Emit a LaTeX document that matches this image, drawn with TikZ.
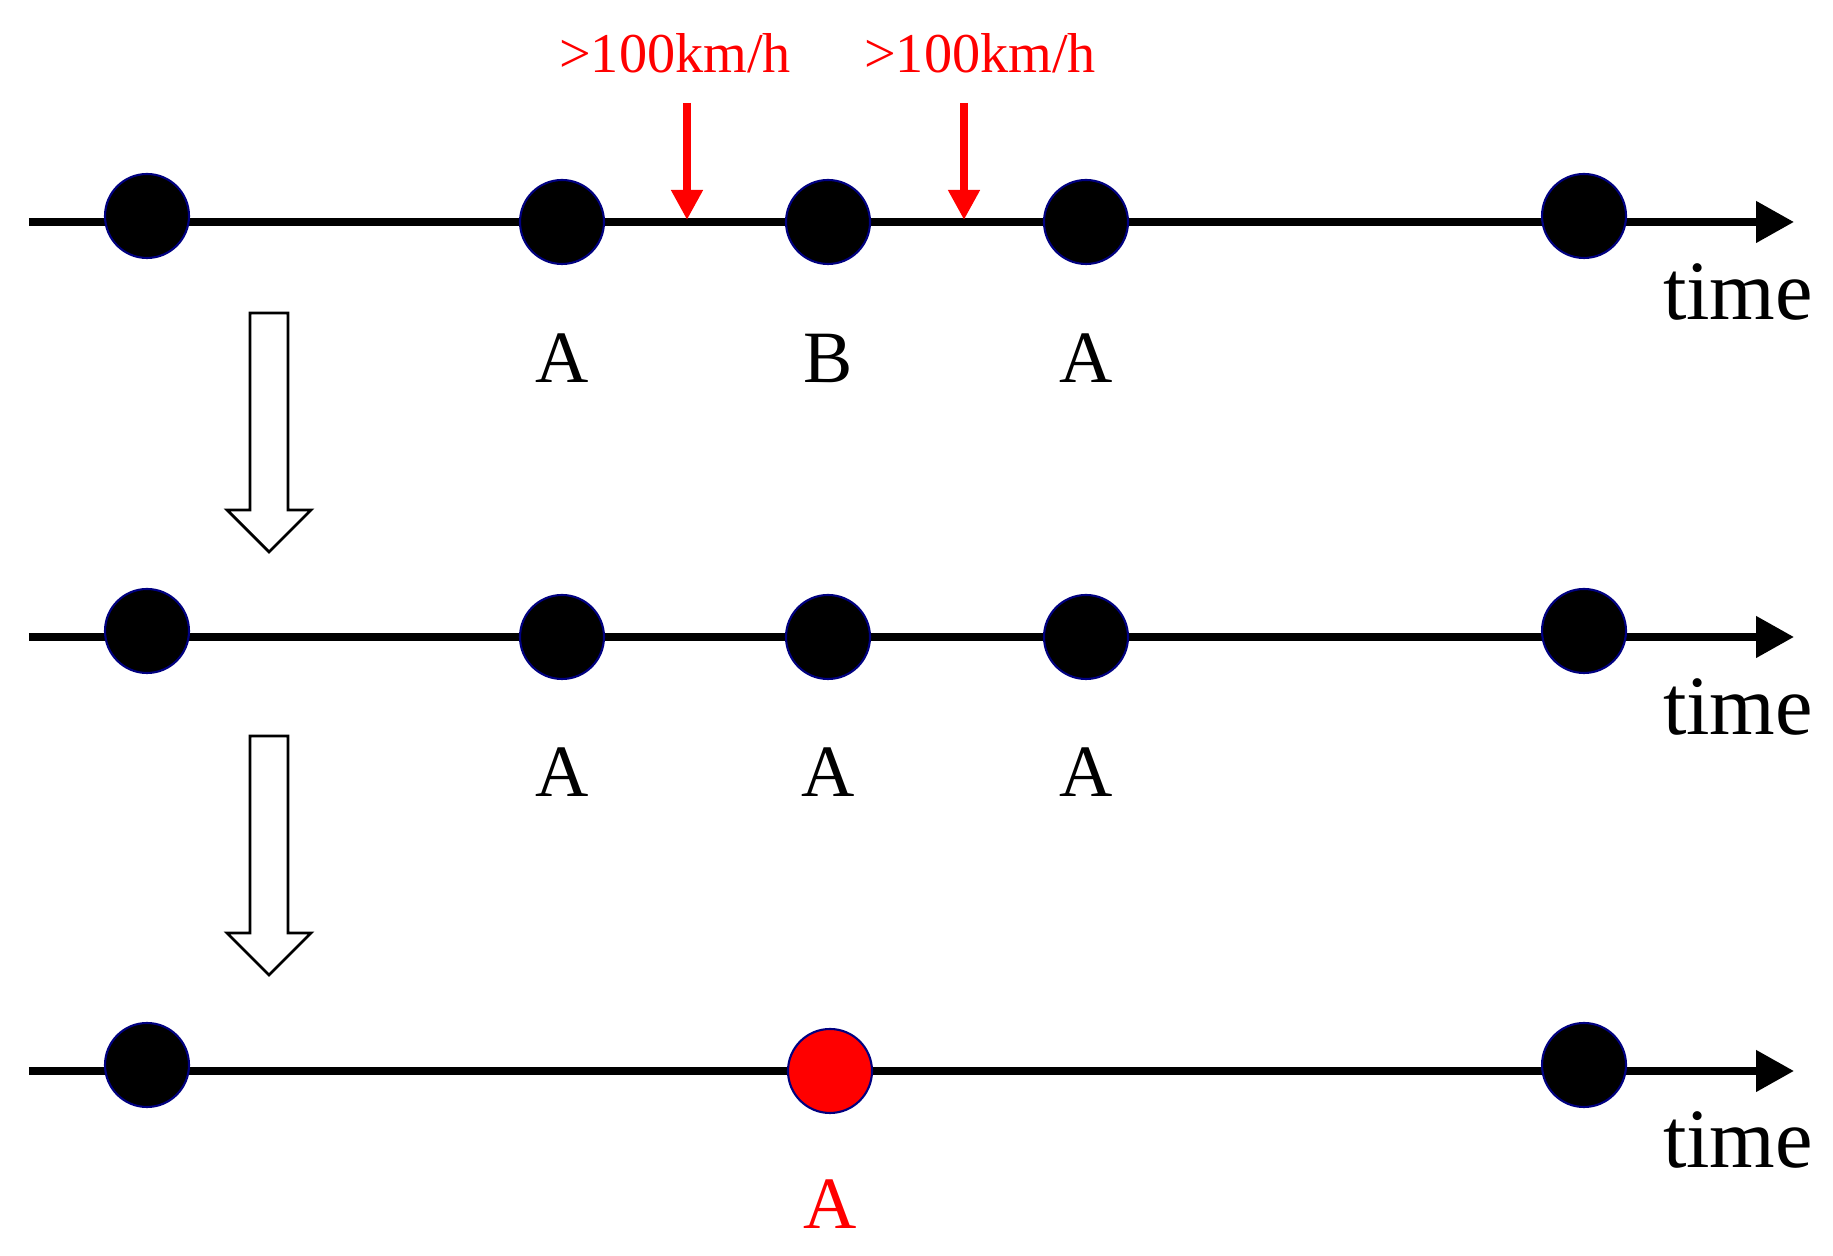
\documentclass[tikz,border=0pt]{standalone}
\usepackage{fontspec}
\setmainfont{Liberation Serif}
\usetikzlibrary{positioning,arrows.meta}

\newcommand\stagearrow[1]{%
  \draw[line width=0.8pt,fill=white] (#1) ++(-0.19,0) -- ++(0.38,0) -- ++(0,-1.97)
    -- ++(0.23,0) -- ++(-0.42,-0.42) -- ++(-0.42,0.42) -- ++(0.23,0) -- cycle;}

\begin{document}
\begin{tikzpicture}[on grid,
    dot/.style={circle,fill=black,draw=blue!50!black,line width=0.6pt,minimum size=0.84cm,inner sep=0pt},
    axis/.style={line width=2.2pt,-{Triangle[length=0.38cm,width=0.4cm]}},
    lab/.style={font=\fontsize{21}{21}\selectfont},
    tlab/.style={font=\fontsize{24}{24}\selectfont},
    warn/.style={red,line width=2.4pt,-{Triangle[length=0.3cm,width=0.3cm]}}]
  \useasboundingbox (0,0) rectangle (18.33,12.56);

  % first row
  \coordinate (s1) at (0.29,10.34);
  \coordinate (e1) at (17.94,10.34);
  \draw[axis] (s1) -- (e1);
  \node[dot] (a1) at (1.47,10.40) {};
  \node[dot] (b1) at (5.62,10.34) {};
  \node[dot] (c1) [right=2.66cm of b1] {};
  \node[dot] (d1) [right=2.58cm of c1] {};
  \node[dot] (f1) at (15.84,10.40) {};
  \node[lab] [below=1.36cm of b1] {A};
  \node[lab] [below=1.36cm of c1] {B};
  \node[lab] [below=1.36cm of d1] {A};
  \node[tlab] at (17.38,9.64) {time};
  \node[lab,red,font=\fontsize{16}{16}\selectfont] (v1) at (6.75,12.03) {>100km/h};
  \node[lab,red,font=\fontsize{16}{16}\selectfont] (v2) at (9.80,12.03) {>100km/h};
  \coordinate (p1) at (6.87,11.53);
  \coordinate (q1) at (6.87,10.36);
  \coordinate (p2) at (9.64,11.53);
  \coordinate (q2) at (9.64,10.36);
  \draw[warn] (p1) -- (q1);
  \draw[warn] (p2) -- (q2);

  \coordinate (m1) at (2.69,9.43);
  \stagearrow{m1}

  % second row
  \coordinate (s2) at (0.29,6.19);
  \coordinate (e2) at (17.94,6.19);
  \draw[axis] (s2) -- (e2);
  \node[dot] (a2) at (1.47,6.25) {};
  \node[dot] (b2) at (5.62,6.19) {};
  \node[dot] (c2) [right=2.66cm of b2] {};
  \node[dot] (d2) [right=2.58cm of c2] {};
  \node[dot] (f2) at (15.84,6.25) {};
  \node[lab] [below=1.35cm of b2] {A};
  \node[lab] [below=1.35cm of c2] {A};
  \node[lab] [below=1.35cm of d2] {A};
  \node[tlab] at (17.38,5.49) {time};

  \coordinate (m2) at (2.69,5.20);
  \stagearrow{m2}

  % third row
  \coordinate (s3) at (0.29,1.85);
  \coordinate (e3) at (17.94,1.85);
  \draw[axis] (s3) -- (e3);
  \node[dot] (a3) at (1.47,1.91) {};
  \node[dot,fill=red] (c3) at (8.30,1.85) {};
  \node[dot] (f3) at (15.84,1.91) {};
  \node[lab,red] [below=1.33cm of c3] {A};
  \node[tlab] at (17.38,1.16) {time};
\end{tikzpicture}
\end{document}
